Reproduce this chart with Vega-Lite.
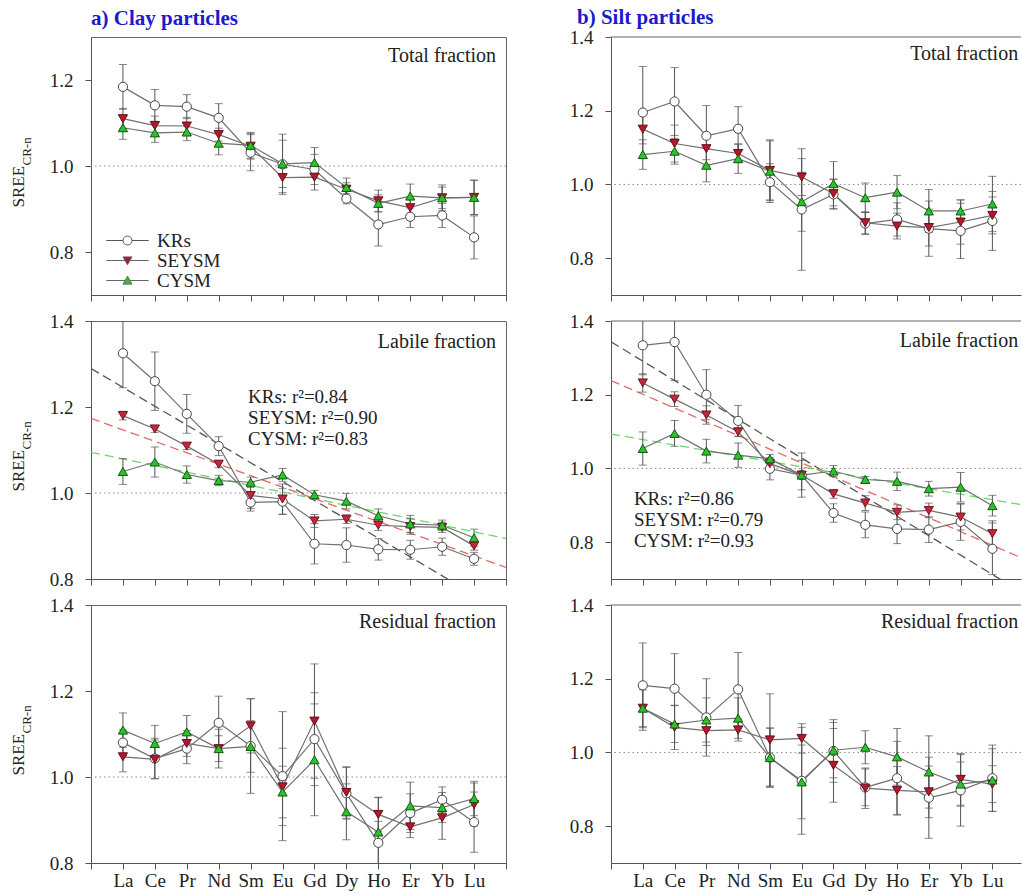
{
  "$schema": "https://vega.github.io/schema/vega-lite/v6.json",
  "padding": {"left": 8, "top": 7, "right": 0, "bottom": 0},
  "config": {
    "font": "Liberation Serif",
    "view": {"stroke": "#666666", "strokeWidth": 1},
    "axis": {"domainColor": "#555555", "tickColor": "#555555", "labelColor": "#222222", "labelFont": "Liberation Serif", "labelFontSize": 19, "tickSize": 6, "grid": false, "titleFont": "Liberation Serif", "titleColor": "#222222", "titleFontWeight": "normal", "labelFlush": false, "labelOverlap": false},
    "axisY": {"labelPadding": 12},
    "axisX": {"labelPadding": 2},
    "title": {"font": "Liberation Serif", "fontSize": 21, "fontWeight": "bold", "color": "#1b1bcc", "anchor": "start", "frame": "group", "baseline": "alphabetic"}
  },
  "resolve": {"scale": {"shape": "independent", "fill": "independent", "stroke": "independent", "color": "independent"}},
  "columns": 2,
  "spacing": {"row": 26, "column": 105},
  "bounds": "flush",
  "datasets": {
    "d": [
      {"p":"cT","s":"KRs","i":1,"v":1.184,"e":0.052},{"p":"cT","s":"KRs","i":2,"v":1.141,"e":0.037},{"p":"cT","s":"KRs","i":3,"v":1.138,"e":0.028},{"p":"cT","s":"KRs","i":4,"v":1.112,"e":0.033},{"p":"cT","s":"KRs","i":5,"v":1.031,"e":0.042},{"p":"cT","s":"KRs","i":6,"v":1.004,"e":0.07},{"p":"cT","s":"KRs","i":7,"v":0.992,"e":0.035},{"p":"cT","s":"KRs","i":8,"v":0.924,"e":0.012},{"p":"cT","s":"KRs","i":9,"v":0.864,"e":0.05},{"p":"cT","s":"KRs","i":10,"v":0.882,"e":0.025},{"p":"cT","s":"KRs","i":11,"v":0.885,"e":0.028},{"p":"cT","s":"KRs","i":12,"v":0.834,"e":0.05},
      {"p":"cT","s":"SEYSM","i":1,"v":1.110,"e":0.024},{"p":"cT","s":"SEYSM","i":2,"v":1.094,"e":0.022},{"p":"cT","s":"SEYSM","i":3,"v":1.093,"e":0.02},{"p":"cT","s":"SEYSM","i":4,"v":1.073,"e":0.015},{"p":"cT","s":"SEYSM","i":5,"v":1.046,"e":0.03},{"p":"cT","s":"SEYSM","i":6,"v":0.973,"e":0.035},{"p":"cT","s":"SEYSM","i":7,"v":0.974,"e":0.03},{"p":"cT","s":"SEYSM","i":8,"v":0.946,"e":0.015},{"p":"cT","s":"SEYSM","i":9,"v":0.919,"e":0.025},{"p":"cT","s":"SEYSM","i":10,"v":0.903,"e":0.02},{"p":"cT","s":"SEYSM","i":11,"v":0.926,"e":0.025},{"p":"cT","s":"SEYSM","i":12,"v":0.927,"e":0.04},
      {"p":"cT","s":"CYSM","i":1,"v":1.089,"e":0.027},{"p":"cT","s":"CYSM","i":2,"v":1.077,"e":0.022},{"p":"cT","s":"CYSM","i":3,"v":1.079,"e":0.02},{"p":"cT","s":"CYSM","i":4,"v":1.053,"e":0.027},{"p":"cT","s":"CYSM","i":5,"v":1.048,"e":0.03},{"p":"cT","s":"CYSM","i":6,"v":1.005,"e":0.055},{"p":"cT","s":"CYSM","i":7,"v":1.008,"e":0.035},{"p":"cT","s":"CYSM","i":8,"v":0.950,"e":0.022},{"p":"cT","s":"CYSM","i":9,"v":0.913,"e":0.02},{"p":"cT","s":"CYSM","i":10,"v":0.930,"e":0.028},{"p":"cT","s":"CYSM","i":11,"v":0.926,"e":0.03},{"p":"cT","s":"CYSM","i":12,"v":0.927,"e":0.04},

      {"p":"cL","s":"KRs","i":1,"v":1.325,"e":0.08},{"p":"cL","s":"KRs","i":2,"v":1.26,"e":0.068},{"p":"cL","s":"KRs","i":3,"v":1.184,"e":0.045},{"p":"cL","s":"KRs","i":4,"v":1.109,"e":0.022},{"p":"cL","s":"KRs","i":5,"v":0.978,"e":0.02},{"p":"cL","s":"KRs","i":6,"v":0.98,"e":0.03},{"p":"cL","s":"KRs","i":7,"v":0.882,"e":0.047},{"p":"cL","s":"KRs","i":8,"v":0.879,"e":0.04},{"p":"cL","s":"KRs","i":9,"v":0.869,"e":0.025},{"p":"cL","s":"KRs","i":10,"v":0.868,"e":0.022},{"p":"cL","s":"KRs","i":11,"v":0.875,"e":0.02},{"p":"cL","s":"KRs","i":12,"v":0.847,"e":0.015},
      {"p":"cL","s":"SEYSM","i":1,"v":1.18,"e":0.01},{"p":"cL","s":"SEYSM","i":2,"v":1.149,"e":0.008},{"p":"cL","s":"SEYSM","i":3,"v":1.109,"e":0.008},{"p":"cL","s":"SEYSM","i":4,"v":1.067,"e":0.008},{"p":"cL","s":"SEYSM","i":5,"v":0.994,"e":0.03},{"p":"cL","s":"SEYSM","i":6,"v":0.986,"e":0.035},{"p":"cL","s":"SEYSM","i":7,"v":0.935,"e":0.015},{"p":"cL","s":"SEYSM","i":8,"v":0.939,"e":0.01},{"p":"cL","s":"SEYSM","i":9,"v":0.925,"e":0.012},{"p":"cL","s":"SEYSM","i":10,"v":0.922,"e":0.018},{"p":"cL","s":"SEYSM","i":11,"v":0.92,"e":0.012},{"p":"cL","s":"SEYSM","i":12,"v":0.877,"e":0.01},
      {"p":"cL","s":"CYSM","i":1,"v":1.05,"e":0.03},{"p":"cL","s":"CYSM","i":2,"v":1.072,"e":0.035},{"p":"cL","s":"CYSM","i":3,"v":1.043,"e":0.02},{"p":"cL","s":"CYSM","i":4,"v":1.029,"e":0.012},{"p":"cL","s":"CYSM","i":5,"v":1.025,"e":0.012},{"p":"cL","s":"CYSM","i":6,"v":1.042,"e":0.015},{"p":"cL","s":"CYSM","i":7,"v":0.996,"e":0.01},{"p":"cL","s":"CYSM","i":8,"v":0.981,"e":0.018},{"p":"cL","s":"CYSM","i":9,"v":0.947,"e":0.016},{"p":"cL","s":"CYSM","i":10,"v":0.928,"e":0.02},{"p":"cL","s":"CYSM","i":11,"v":0.925,"e":0.012},{"p":"cL","s":"CYSM","i":12,"v":0.896,"e":0.02},

      {"p":"cR","s":"KRs","i":1,"v":1.08,"e":0.03},{"p":"cR","s":"KRs","i":2,"v":1.043,"e":0.047},{"p":"cR","s":"KRs","i":3,"v":1.066,"e":0.035},{"p":"cR","s":"KRs","i":4,"v":1.126,"e":0.062},{"p":"cR","s":"KRs","i":5,"v":1.072,"e":0.11},{"p":"cR","s":"KRs","i":6,"v":1.002,"e":0.15},{"p":"cR","s":"KRs","i":7,"v":1.088,"e":0.108},{"p":"cR","s":"KRs","i":8,"v":0.962,"e":0.06},{"p":"cR","s":"KRs","i":9,"v":0.847,"e":0.05},{"p":"cR","s":"KRs","i":10,"v":0.916,"e":0.045},{"p":"cR","s":"KRs","i":11,"v":0.947,"e":0.03},{"p":"cR","s":"KRs","i":12,"v":0.895,"e":0.07},
      {"p":"cR","s":"SEYSM","i":1,"v":1.047,"e":0.035},{"p":"cR","s":"SEYSM","i":2,"v":1.041,"e":0.045},{"p":"cR","s":"SEYSM","i":3,"v":1.078,"e":0.03},{"p":"cR","s":"SEYSM","i":4,"v":1.066,"e":0.03},{"p":"cR","s":"SEYSM","i":5,"v":1.119,"e":0.063},{"p":"cR","s":"SEYSM","i":6,"v":0.977,"e":0.09},{"p":"cR","s":"SEYSM","i":7,"v":1.13,"e":0.133},{"p":"cR","s":"SEYSM","i":8,"v":0.964,"e":0.06},{"p":"cR","s":"SEYSM","i":9,"v":0.913,"e":0.04},{"p":"cR","s":"SEYSM","i":10,"v":0.884,"e":0.025},{"p":"cR","s":"SEYSM","i":11,"v":0.905,"e":0.05},{"p":"cR","s":"SEYSM","i":12,"v":0.936,"e":0.05},
      {"p":"cR","s":"CYSM","i":1,"v":1.109,"e":0.04},{"p":"cR","s":"CYSM","i":2,"v":1.078,"e":0.042},{"p":"cR","s":"CYSM","i":3,"v":1.105,"e":0.038},{"p":"cR","s":"CYSM","i":4,"v":1.066,"e":0.045},{"p":"cR","s":"CYSM","i":5,"v":1.071,"e":0.06},{"p":"cR","s":"CYSM","i":6,"v":0.965,"e":0.06},{"p":"cR","s":"CYSM","i":7,"v":1.04,"e":0.13},{"p":"cR","s":"CYSM","i":8,"v":0.919,"e":0.065},{"p":"cR","s":"CYSM","i":9,"v":0.872,"e":0.08},{"p":"cR","s":"CYSM","i":10,"v":0.933,"e":0.055},{"p":"cR","s":"CYSM","i":11,"v":0.929,"e":0.035},{"p":"cR","s":"CYSM","i":12,"v":0.95,"e":0.04},

      {"p":"sT","s":"KRs","i":1,"v":1.195,"e":0.125},{"p":"sT","s":"KRs","i":2,"v":1.225,"e":0.092},{"p":"sT","s":"KRs","i":3,"v":1.132,"e":0.082},{"p":"sT","s":"KRs","i":4,"v":1.151,"e":0.06},{"p":"sT","s":"KRs","i":5,"v":1.006,"e":0.05},{"p":"sT","s":"KRs","i":6,"v":0.932,"e":0.165},{"p":"sT","s":"KRs","i":7,"v":0.973,"e":0.04},{"p":"sT","s":"KRs","i":8,"v":0.894,"e":0.03},{"p":"sT","s":"KRs","i":9,"v":0.905,"e":0.045},{"p":"sT","s":"KRs","i":10,"v":0.88,"e":0.075},{"p":"sT","s":"KRs","i":11,"v":0.874,"e":0.075},{"p":"sT","s":"KRs","i":12,"v":0.901,"e":0.08},
      {"p":"sT","s":"SEYSM","i":1,"v":1.15,"e":0.04},{"p":"sT","s":"SEYSM","i":2,"v":1.111,"e":0.05},{"p":"sT","s":"SEYSM","i":3,"v":1.097,"e":0.03},{"p":"sT","s":"SEYSM","i":4,"v":1.084,"e":0.025},{"p":"sT","s":"SEYSM","i":5,"v":1.038,"e":0.08},{"p":"sT","s":"SEYSM","i":6,"v":1.02,"e":0.05},{"p":"sT","s":"SEYSM","i":7,"v":0.975,"e":0.04},{"p":"sT","s":"SEYSM","i":8,"v":0.896,"e":0.03},{"p":"sT","s":"SEYSM","i":9,"v":0.887,"e":0.035},{"p":"sT","s":"SEYSM","i":10,"v":0.883,"e":0.05},{"p":"sT","s":"SEYSM","i":11,"v":0.898,"e":0.06},{"p":"sT","s":"SEYSM","i":12,"v":0.916,"e":0.05},
      {"p":"sT","s":"CYSM","i":1,"v":1.081,"e":0.04},{"p":"sT","s":"CYSM","i":2,"v":1.09,"e":0.035},{"p":"sT","s":"CYSM","i":3,"v":1.052,"e":0.045},{"p":"sT","s":"CYSM","i":4,"v":1.07,"e":0.04},{"p":"sT","s":"CYSM","i":5,"v":1.036,"e":0.085},{"p":"sT","s":"CYSM","i":6,"v":0.953,"e":0.08},{"p":"sT","s":"CYSM","i":7,"v":1.002,"e":0.06},{"p":"sT","s":"CYSM","i":8,"v":0.964,"e":0.04},{"p":"sT","s":"CYSM","i":9,"v":0.979,"e":0.045},{"p":"sT","s":"CYSM","i":10,"v":0.928,"e":0.058},{"p":"sT","s":"CYSM","i":11,"v":0.928,"e":0.03},{"p":"sT","s":"CYSM","i":12,"v":0.947,"e":0.075},

      {"p":"sL","s":"KRs","i":1,"v":1.334,"e":0.08},{"p":"sL","s":"KRs","i":2,"v":1.343,"e":0.105},{"p":"sL","s":"KRs","i":3,"v":1.2,"e":0.068},{"p":"sL","s":"KRs","i":4,"v":1.129,"e":0.042},{"p":"sL","s":"KRs","i":5,"v":0.999,"e":0.03},{"p":"sL","s":"KRs","i":6,"v":0.982,"e":0.06},{"p":"sL","s":"KRs","i":7,"v":0.879,"e":0.025},{"p":"sL","s":"KRs","i":8,"v":0.847,"e":0.035},{"p":"sL","s":"KRs","i":9,"v":0.836,"e":0.04},{"p":"sL","s":"KRs","i":10,"v":0.834,"e":0.035},{"p":"sL","s":"KRs","i":11,"v":0.855,"e":0.05},{"p":"sL","s":"KRs","i":12,"v":0.782,"e":0.07},
      {"p":"sL","s":"SEYSM","i":1,"v":1.232,"e":0.025},{"p":"sL","s":"SEYSM","i":2,"v":1.188,"e":0.02},{"p":"sL","s":"SEYSM","i":3,"v":1.145,"e":0.025},{"p":"sL","s":"SEYSM","i":4,"v":1.099,"e":0.012},{"p":"sL","s":"SEYSM","i":5,"v":1.013,"e":0.015},{"p":"sL","s":"SEYSM","i":6,"v":0.982,"e":0.04},{"p":"sL","s":"SEYSM","i":7,"v":0.931,"e":0.012},{"p":"sL","s":"SEYSM","i":8,"v":0.906,"e":0.02},{"p":"sL","s":"SEYSM","i":9,"v":0.881,"e":0.02},{"p":"sL","s":"SEYSM","i":10,"v":0.886,"e":0.02},{"p":"sL","s":"SEYSM","i":11,"v":0.868,"e":0.035},{"p":"sL","s":"SEYSM","i":12,"v":0.823,"e":0.035},
      {"p":"sL","s":"CYSM","i":1,"v":1.054,"e":0.045},{"p":"sL","s":"CYSM","i":2,"v":1.095,"e":0.035},{"p":"sL","s":"CYSM","i":3,"v":1.047,"e":0.032},{"p":"sL","s":"CYSM","i":4,"v":1.036,"e":0.033},{"p":"sL","s":"CYSM","i":5,"v":1.026,"e":0.012},{"p":"sL","s":"CYSM","i":6,"v":0.982,"e":0.01},{"p":"sL","s":"CYSM","i":7,"v":0.993,"e":0.015},{"p":"sL","s":"CYSM","i":8,"v":0.97,"e":0.008},{"p":"sL","s":"CYSM","i":9,"v":0.965,"e":0.025},{"p":"sL","s":"CYSM","i":10,"v":0.945,"e":0.02},{"p":"sL","s":"CYSM","i":11,"v":0.949,"e":0.04},{"p":"sL","s":"CYSM","i":12,"v":0.899,"e":0.028},

      {"p":"sR","s":"KRs","i":1,"v":1.182,"e":0.115},{"p":"sR","s":"KRs","i":2,"v":1.173,"e":0.095},{"p":"sR","s":"KRs","i":3,"v":1.095,"e":0.105},{"p":"sR","s":"KRs","i":4,"v":1.171,"e":0.1},{"p":"sR","s":"KRs","i":5,"v":0.986,"e":0.08},{"p":"sR","s":"KRs","i":6,"v":0.923,"e":0.145},{"p":"sR","s":"KRs","i":7,"v":1.004,"e":0.085},{"p":"sR","s":"KRs","i":8,"v":0.905,"e":0.05},{"p":"sR","s":"KRs","i":9,"v":0.93,"e":0.1},{"p":"sR","s":"KRs","i":10,"v":0.877,"e":0.11},{"p":"sR","s":"KRs","i":11,"v":0.897,"e":0.097},{"p":"sR","s":"KRs","i":12,"v":0.93,"e":0.09},
      {"p":"sR","s":"SEYSM","i":1,"v":1.12,"e":0.05},{"p":"sR","s":"SEYSM","i":2,"v":1.068,"e":0.06},{"p":"sR","s":"SEYSM","i":3,"v":1.059,"e":0.04},{"p":"sR","s":"SEYSM","i":4,"v":1.061,"e":0.03},{"p":"sR","s":"SEYSM","i":5,"v":1.034,"e":0.125},{"p":"sR","s":"SEYSM","i":6,"v":1.038,"e":0.04},{"p":"sR","s":"SEYSM","i":7,"v":0.965,"e":0.1},{"p":"sR","s":"SEYSM","i":8,"v":0.903,"e":0.055},{"p":"sR","s":"SEYSM","i":9,"v":0.897,"e":0.065},{"p":"sR","s":"SEYSM","i":10,"v":0.893,"e":0.07},{"p":"sR","s":"SEYSM","i":11,"v":0.927,"e":0.07},{"p":"sR","s":"SEYSM","i":12,"v":0.914,"e":0.05},
      {"p":"sR","s":"CYSM","i":1,"v":1.12,"e":0.06},{"p":"sR","s":"CYSM","i":2,"v":1.077,"e":0.05},{"p":"sR","s":"CYSM","i":3,"v":1.088,"e":0.06},{"p":"sR","s":"CYSM","i":4,"v":1.093,"e":0.055},{"p":"sR","s":"CYSM","i":5,"v":0.986,"e":0.08},{"p":"sR","s":"CYSM","i":6,"v":0.92,"e":0.1},{"p":"sR","s":"CYSM","i":7,"v":1.006,"e":0.075},{"p":"sR","s":"CYSM","i":8,"v":1.014,"e":0.045},{"p":"sR","s":"CYSM","i":9,"v":0.988,"e":0.077},{"p":"sR","s":"CYSM","i":10,"v":0.947,"e":0.098},{"p":"sR","s":"CYSM","i":11,"v":0.914,"e":0.06},{"p":"sR","s":"CYSM","i":12,"v":0.925,"e":0.085}
    ]
  },
  "concat": [
    {
      "width": 415, "height": 258,
      "title": {"text": "a) Clay particles", "offset": 8},
      "data": {"name": "d"},
      "transform": [{"filter": "datum.p === 'cT'"}],
      "resolve": {"axis": {"x": "independent", "y": "independent"}, "scale": {"shape": "independent", "fill": "independent", "stroke": "independent"}},
      "layer": [
        {"data": {"values": [{}]}, "mark": {"type": "rule", "color": "#8a8a8a", "strokeDash": [1.5, 3]},
         "encoding": {"y": {"datum": 1, "type": "quantitative", "scale": {"domain": [0.7, 1.3]}, "axis": null}}},
        {"mark": {"type": "errorbar", "ticks": true, "size": 8, "thickness": 1, "color": "#555555", "clip": true},
         "encoding": {
           "x": {"field": "i", "type": "quantitative", "scale": {"domain": [0, 13]}, "axis": {"orient": "bottom", "values": [0,1,2,3,4,5,6,7,8,9,10,11,12,13], "labels": false, "title": null}},
           "y": {"field": "v", "type": "quantitative", "scale": {"domain": [0.7, 1.3]}, "axis": {"orient": "left", "values": [0.8, 1.0, 1.2], "format": ".1f", "title": "SREE", "titleFontSize": 17, "titleAngle": 270, "titleAlign": "left", "titleBaseline": "alphabetic", "titleX": -68, "titleY": 170}},
           "yError": {"field": "e"}}},
        {"mark": {"type": "line", "color": "#707070", "strokeWidth": 1.2},
         "encoding": {"x": {"field": "i", "type": "quantitative", "scale": {"domain": [0, 13]}, "axis": null}, "y": {"field": "v", "type": "quantitative", "scale": {"domain": [0.7, 1.3]}, "axis": null}, "detail": {"field": "s"}}},
        {"mark": {"type": "point", "filled": true, "size": 85, "opacity": 1, "strokeWidth": 1},
         "encoding": {
           "x": {"field": "i", "type": "quantitative", "scale": {"domain": [0, 13]}, "axis": null},
           "y": {"field": "v", "type": "quantitative", "scale": {"domain": [0.7, 1.3]}, "axis": {"orient": "left", "title": "CR-n", "titleFontSize": 13, "titleAngle": 270, "titleAlign": "left", "titleBaseline": "alphabetic", "titleX": -61, "titleY": 128, "labels": false, "ticks": false, "domain": false}},
           "shape": {"field": "s", "type": "nominal", "scale": {"domain": ["KRs", "SEYSM", "CYSM"], "range": ["circle", "triangle-down", "triangle-up"]}, "legend": null},
           "fill": {"field": "s", "type": "nominal", "scale": {"domain": ["KRs", "SEYSM", "CYSM"], "range": ["#ffffff", "#b01a2c", "#2ec02e"]}, "legend": null},
           "stroke": {"field": "s", "type": "nominal", "scale": {"domain": ["KRs", "SEYSM", "CYSM"], "range": ["#444444", "#6b0d18", "#0d5c0d"]}, "legend": null}}},
        {"data": {"values": []}, "mark": {"type": "point", "filled": true, "opacity": 1},
         "encoding": {
           "shape": {"field": "s", "type": "nominal", "scale": {"domain": ["KRs", "SEYSM", "CYSM"], "range": ["M-4.7,0H-1M1,0H4.7M1,0A1,1,0,1,1,-1,0A1,1,0,1,1,1,0Z", "M-4.7,0H-0.55M0.55,0H4.7M-1,-0.8L1,-0.8L0,0.95Z", "M-4.7,0H-0.55M0.55,0H4.7M-1,0.8L1,0.8L0,-0.95Z"]},
                     "legend": {"title": null, "orient": "none", "legendX": 27, "legendY": 194, "padding": 0, "symbolSize": 81, "symbolStrokeWidth": 1, "labelFont": "Liberation Serif", "labelFontSize": 19, "labelColor": "#222222", "labelOffset": 20, "rowPadding": 0, "symbolOpacity": 1}},
           "fill": {"field": "s", "type": "nominal", "scale": {"domain": ["KRs", "SEYSM", "CYSM"], "range": ["#ffffff", "#b01a2c", "#2ec02e"]},
                    "legend": {"title": null, "orient": "none", "legendX": 27, "legendY": 194, "padding": 0, "symbolSize": 81, "symbolStrokeWidth": 1, "labelFont": "Liberation Serif", "labelFontSize": 19, "labelColor": "#222222", "labelOffset": 20, "rowPadding": 0, "symbolOpacity": 1}},
           "stroke": {"field": "s", "type": "nominal", "scale": {"domain": ["KRs", "SEYSM", "CYSM"], "range": ["#555555", "#666666", "#666666"]},
                      "legend": {"title": null, "orient": "none", "legendX": 27, "legendY": 194, "padding": 0, "symbolSize": 81, "symbolStrokeWidth": 1, "labelFont": "Liberation Serif", "labelFontSize": 19, "labelColor": "#222222", "labelOffset": 20, "rowPadding": 0, "symbolOpacity": 1}}}},
        {"data": {"values": [{"t": "Total fraction"}]}, "mark": {"type": "text", "align": "right", "baseline": "middle", "fontSize": 20, "color": "#222222"},
         "encoding": {"x": {"datum": 12.69, "type": "quantitative", "scale": {"domain": [0, 13]}, "axis": null}, "y": {"datum": 1.255, "type": "quantitative", "scale": {"domain": [0.7, 1.3]}, "axis": null}, "text": {"field": "t"}}}
      ]
    },
    {
      "width": 410, "height": 258,
      "title": {"text": "b) Silt particles", "dx": -34, "offset": 0},
      "view": {"stroke": null},
      "data": {"name": "d"},
      "transform": [{"filter": "datum.p === 'sT'"}],
      "resolve": {"axis": {"x": "independent", "y": "independent"}},
      "layer": [
        {"data": {"values": [{}]}, "mark": {"type": "rule", "color": "#8a8a8a", "strokeDash": [1.5, 3]},
         "encoding": {"y": {"datum": 1, "type": "quantitative", "scale": {"domain": [0.7, 1.4]}, "axis": null}}},
        {"data": {"values": [{}]}, "mark": {"type": "rule", "color": "#666666"},
         "encoding": {"y": {"datum": 1.4, "type": "quantitative", "scale": {"domain": [0.7, 1.4]}, "axis": null}}},
        {"mark": {"type": "errorbar", "ticks": true, "size": 8, "thickness": 1, "color": "#555555", "clip": true},
         "encoding": {
           "x": {"field": "i", "type": "quantitative", "scale": {"domain": [0, 12.9]}, "axis": {"orient": "bottom", "values": [0,1,2,3,4,5,6,7,8,9,10,11,12], "labels": false, "title": null}},
           "y": {"field": "v", "type": "quantitative", "scale": {"domain": [0.7, 1.4]}, "axis": {"orient": "left", "values": [0.8, 1.0, 1.2, 1.4], "format": ".1f", "title": null}},
           "yError": {"field": "e"}}},
        {"mark": {"type": "line", "color": "#707070", "strokeWidth": 1.2},
         "encoding": {"x": {"field": "i", "type": "quantitative", "scale": {"domain": [0, 12.9]}, "axis": null}, "y": {"field": "v", "type": "quantitative", "scale": {"domain": [0.7, 1.4]}, "axis": null}, "detail": {"field": "s"}}},
        {"mark": {"type": "point", "filled": true, "size": 85, "opacity": 1, "strokeWidth": 1},
         "encoding": {
           "x": {"field": "i", "type": "quantitative", "scale": {"domain": [0, 12.9]}, "axis": null},
           "y": {"field": "v", "type": "quantitative", "scale": {"domain": [0.7, 1.4]}, "axis": null},
           "shape": {"field": "s", "type": "nominal", "scale": {"domain": ["KRs", "SEYSM", "CYSM"], "range": ["circle", "triangle-down", "triangle-up"]}, "legend": null},
           "fill": {"field": "s", "type": "nominal", "scale": {"domain": ["KRs", "SEYSM", "CYSM"], "range": ["#ffffff", "#b01a2c", "#2ec02e"]}, "legend": null},
           "stroke": {"field": "s", "type": "nominal", "scale": {"domain": ["KRs", "SEYSM", "CYSM"], "range": ["#444444", "#6b0d18", "#0d5c0d"]}, "legend": null}}},
        {"data": {"values": [{"t": "Total fraction"}]}, "mark": {"type": "text", "align": "right", "baseline": "middle", "fontSize": 20, "color": "#222222"},
         "encoding": {"x": {"datum": 12.81, "type": "quantitative", "scale": {"domain": [0, 12.9]}, "axis": null}, "y": {"datum": 1.354, "type": "quantitative", "scale": {"domain": [0.7, 1.4]}, "axis": null}, "text": {"field": "t"}}}
      ]
    },
    {
      "width": 415, "height": 258,
      "data": {"name": "d"},
      "transform": [{"filter": "datum.p === 'cL'"}],
      "resolve": {"axis": {"x": "independent", "y": "independent"}},
      "layer": [
        {"data": {"values": [{}]}, "mark": {"type": "rule", "color": "#8a8a8a", "strokeDash": [1.5, 3]},
         "encoding": {"y": {"datum": 1, "type": "quantitative", "scale": {"domain": [0.8, 1.4]}, "axis": null}}},
        {"transform": [{"regression": "v", "on": "i", "groupby": ["s"], "extent": [0, 13]}],
         "mark": {"type": "line", "strokeDash": [9, 5], "strokeWidth": 1.3, "clip": true},
         "encoding": {"x": {"field": "i", "type": "quantitative", "scale": {"domain": [0, 13]}, "axis": null}, "y": {"field": "v", "type": "quantitative", "scale": {"domain": [0.8, 1.4]}, "axis": null},
                      "color": {"field": "s", "type": "nominal", "scale": {"domain": ["KRs", "SEYSM", "CYSM"], "range": ["#555555", "#e06a6a", "#6ad86a"]}, "legend": null}}},
        {"mark": {"type": "errorbar", "ticks": true, "size": 8, "thickness": 1, "color": "#555555", "clip": true},
         "encoding": {
           "x": {"field": "i", "type": "quantitative", "scale": {"domain": [0, 13]}, "axis": {"orient": "bottom", "values": [0,1,2,3,4,5,6,7,8,9,10,11,12,13], "labels": false, "title": null}},
           "y": {"field": "v", "type": "quantitative", "scale": {"domain": [0.8, 1.4]}, "axis": {"orient": "left", "values": [0.8, 1.0, 1.2, 1.4], "format": ".1f", "title": "SREE", "titleFontSize": 17, "titleAngle": 270, "titleAlign": "left", "titleBaseline": "alphabetic", "titleX": -68, "titleY": 170}},
           "yError": {"field": "e"}}},
        {"mark": {"type": "line", "color": "#707070", "strokeWidth": 1.2},
         "encoding": {"x": {"field": "i", "type": "quantitative", "scale": {"domain": [0, 13]}, "axis": null}, "y": {"field": "v", "type": "quantitative", "scale": {"domain": [0.8, 1.4]}, "axis": null}, "detail": {"field": "s"}}},
        {"mark": {"type": "point", "filled": true, "size": 85, "opacity": 1, "strokeWidth": 1},
         "encoding": {
           "x": {"field": "i", "type": "quantitative", "scale": {"domain": [0, 13]}, "axis": null},
           "y": {"field": "v", "type": "quantitative", "scale": {"domain": [0.8, 1.4]}, "axis": {"orient": "left", "title": "CR-n", "titleFontSize": 13, "titleAngle": 270, "titleAlign": "left", "titleBaseline": "alphabetic", "titleX": -61, "titleY": 128, "labels": false, "ticks": false, "domain": false}},
           "shape": {"field": "s", "type": "nominal", "scale": {"domain": ["KRs", "SEYSM", "CYSM"], "range": ["circle", "triangle-down", "triangle-up"]}, "legend": null},
           "fill": {"field": "s", "type": "nominal", "scale": {"domain": ["KRs", "SEYSM", "CYSM"], "range": ["#ffffff", "#c0283a", "#2ec02e"]}, "legend": null},
           "stroke": {"field": "s", "type": "nominal", "scale": {"domain": ["KRs", "SEYSM", "CYSM"], "range": ["#444444", "#7a1220", "#0d5c0d"]}, "legend": null}}},
        {"data": {"values": [{"t": "Labile fraction"}]}, "mark": {"type": "text", "align": "right", "baseline": "middle", "fontSize": 20, "color": "#222222"},
         "encoding": {"x": {"datum": 12.69, "type": "quantitative", "scale": {"domain": [0, 13]}, "axis": null}, "y": {"datum": 1.351, "type": "quantitative", "scale": {"domain": [0.8, 1.4]}, "axis": null}, "text": {"field": "t"}}},
        {"data": {"values": [{}]}, "mark": {"type": "text", "align": "left", "baseline": "top", "fontSize": 19, "lineHeight": 21, "color": "#222222", "text": ["KRs: r²=0.84", "SEYSM: r²=0.90", "CYSM: r²=0.83"]},
         "encoding": {"x": {"datum": 4.92, "type": "quantitative", "scale": {"domain": [0, 13]}, "axis": null}, "y": {"datum": 1.245, "type": "quantitative", "scale": {"domain": [0.8, 1.4]}, "axis": null}}}
      ]
    },
    {
      "width": 410, "height": 258,
      "view": {"stroke": null},
      "data": {"name": "d"},
      "transform": [{"filter": "datum.p === 'sL'"}],
      "resolve": {"axis": {"x": "independent", "y": "independent"}},
      "layer": [
        {"data": {"values": [{}]}, "mark": {"type": "rule", "color": "#8a8a8a", "strokeDash": [1.5, 3]},
         "encoding": {"y": {"datum": 1, "type": "quantitative", "scale": {"domain": [0.7, 1.4]}, "axis": null}}},
        {"data": {"values": [{}]}, "mark": {"type": "rule", "color": "#666666"},
         "encoding": {"y": {"datum": 1.4, "type": "quantitative", "scale": {"domain": [0.7, 1.4]}, "axis": null}}},
        {"transform": [{"regression": "v", "on": "i", "groupby": ["s"], "extent": [0, 13]}],
         "mark": {"type": "line", "strokeDash": [9, 5], "strokeWidth": 1.3, "clip": true},
         "encoding": {"x": {"field": "i", "type": "quantitative", "scale": {"domain": [0, 12.9]}, "axis": null}, "y": {"field": "v", "type": "quantitative", "scale": {"domain": [0.7, 1.4]}, "axis": null},
                      "color": {"field": "s", "type": "nominal", "scale": {"domain": ["KRs", "SEYSM", "CYSM"], "range": ["#555555", "#e06a6a", "#6ad86a"]}, "legend": null}}},
        {"mark": {"type": "errorbar", "ticks": true, "size": 8, "thickness": 1, "color": "#555555", "clip": true},
         "encoding": {
           "x": {"field": "i", "type": "quantitative", "scale": {"domain": [0, 12.9]}, "axis": {"orient": "bottom", "values": [0,1,2,3,4,5,6,7,8,9,10,11,12], "labels": false, "title": null}},
           "y": {"field": "v", "type": "quantitative", "scale": {"domain": [0.7, 1.4]}, "axis": {"orient": "left", "values": [0.8, 1.0, 1.2, 1.4], "format": ".1f", "title": null}},
           "yError": {"field": "e"}}},
        {"mark": {"type": "line", "color": "#707070", "strokeWidth": 1.2},
         "encoding": {"x": {"field": "i", "type": "quantitative", "scale": {"domain": [0, 12.9]}, "axis": null}, "y": {"field": "v", "type": "quantitative", "scale": {"domain": [0.7, 1.4]}, "axis": null}, "detail": {"field": "s"}}},
        {"mark": {"type": "point", "filled": true, "size": 85, "opacity": 1, "strokeWidth": 1},
         "encoding": {
           "x": {"field": "i", "type": "quantitative", "scale": {"domain": [0, 12.9]}, "axis": null},
           "y": {"field": "v", "type": "quantitative", "scale": {"domain": [0.7, 1.4]}, "axis": null},
           "shape": {"field": "s", "type": "nominal", "scale": {"domain": ["KRs", "SEYSM", "CYSM"], "range": ["circle", "triangle-down", "triangle-up"]}, "legend": null},
           "fill": {"field": "s", "type": "nominal", "scale": {"domain": ["KRs", "SEYSM", "CYSM"], "range": ["#ffffff", "#c0283a", "#2ec02e"]}, "legend": null},
           "stroke": {"field": "s", "type": "nominal", "scale": {"domain": ["KRs", "SEYSM", "CYSM"], "range": ["#444444", "#7a1220", "#0d5c0d"]}, "legend": null}}},
        {"data": {"values": [{"t": "Labile fraction"}]}, "mark": {"type": "text", "align": "right", "baseline": "middle", "fontSize": 20, "color": "#222222"},
         "encoding": {"x": {"datum": 12.81, "type": "quantitative", "scale": {"domain": [0, 12.9]}, "axis": null}, "y": {"datum": 1.346, "type": "quantitative", "scale": {"domain": [0.7, 1.4]}, "axis": null}, "text": {"field": "t"}}},
        {"data": {"values": [{}]}, "mark": {"type": "text", "align": "left", "baseline": "top", "fontSize": 19, "lineHeight": 21, "color": "#222222", "text": ["KRs: r²=0.86", "SEYSM: r²=0.79", "CYSM: r²=0.93"]},
         "encoding": {"x": {"datum": 0.72, "type": "quantitative", "scale": {"domain": [0, 12.9]}, "axis": null}, "y": {"datum": 0.941, "type": "quantitative", "scale": {"domain": [0.7, 1.4]}, "axis": null}}}
      ]
    },
    {
      "width": 415, "height": 258,
      "data": {"name": "d"},
      "transform": [{"filter": "datum.p === 'cR'"}],
      "resolve": {"axis": {"x": "independent", "y": "independent"}},
      "layer": [
        {"data": {"values": [{}]}, "mark": {"type": "rule", "color": "#8a8a8a", "strokeDash": [1.5, 3]},
         "encoding": {"y": {"datum": 1, "type": "quantitative", "scale": {"domain": [0.8, 1.4]}, "axis": null}}},
        {"mark": {"type": "errorbar", "ticks": true, "size": 8, "thickness": 1, "color": "#555555", "clip": true},
         "encoding": {
           "x": {"field": "i", "type": "quantitative", "scale": {"domain": [0, 13]}, "axis": {"orient": "bottom", "values": [0,1,2,3,4,5,6,7,8,9,10,11,12,13], "title": null, "labelExpr": "['', 'La', 'Ce', 'Pr', 'Nd', 'Sm', 'Eu', 'Gd', 'Dy', 'Ho', 'Er', 'Yb', 'Lu', ''][datum.value]"}},
           "y": {"field": "v", "type": "quantitative", "scale": {"domain": [0.8, 1.4]}, "axis": {"orient": "left", "values": [0.8, 1.0, 1.2, 1.4], "format": ".1f", "title": "SREE", "titleFontSize": 17, "titleAngle": 270, "titleAlign": "left", "titleBaseline": "alphabetic", "titleX": -68, "titleY": 170}},
           "yError": {"field": "e"}}},
        {"mark": {"type": "line", "color": "#707070", "strokeWidth": 1.2},
         "encoding": {"x": {"field": "i", "type": "quantitative", "scale": {"domain": [0, 13]}, "axis": null}, "y": {"field": "v", "type": "quantitative", "scale": {"domain": [0.8, 1.4]}, "axis": null}, "detail": {"field": "s"}}},
        {"mark": {"type": "point", "filled": true, "size": 85, "opacity": 1, "strokeWidth": 1},
         "encoding": {
           "x": {"field": "i", "type": "quantitative", "scale": {"domain": [0, 13]}, "axis": null},
           "y": {"field": "v", "type": "quantitative", "scale": {"domain": [0.8, 1.4]}, "axis": {"orient": "left", "title": "CR-n", "titleFontSize": 13, "titleAngle": 270, "titleAlign": "left", "titleBaseline": "alphabetic", "titleX": -61, "titleY": 128, "labels": false, "ticks": false, "domain": false}},
           "shape": {"field": "s", "type": "nominal", "scale": {"domain": ["KRs", "SEYSM", "CYSM"], "range": ["circle", "triangle-down", "triangle-up"]}, "legend": null},
           "fill": {"field": "s", "type": "nominal", "scale": {"domain": ["KRs", "SEYSM", "CYSM"], "range": ["#ffffff", "#b01a2c", "#2ec02e"]}, "legend": null},
           "stroke": {"field": "s", "type": "nominal", "scale": {"domain": ["KRs", "SEYSM", "CYSM"], "range": ["#444444", "#6b0d18", "#0d5c0d"]}, "legend": null}}},
        {"data": {"values": [{"t": "Residual fraction"}]}, "mark": {"type": "text", "align": "right", "baseline": "middle", "fontSize": 20, "color": "#222222"},
         "encoding": {"x": {"datum": 12.69, "type": "quantitative", "scale": {"domain": [0, 13]}, "axis": null}, "y": {"datum": 1.36, "type": "quantitative", "scale": {"domain": [0.8, 1.4]}, "axis": null}, "text": {"field": "t"}}}
      ]
    },
    {
      "width": 410, "height": 258,
      "view": {"stroke": null},
      "data": {"name": "d"},
      "transform": [{"filter": "datum.p === 'sR'"}],
      "resolve": {"axis": {"x": "independent", "y": "independent"}},
      "layer": [
        {"data": {"values": [{}]}, "mark": {"type": "rule", "color": "#8a8a8a", "strokeDash": [1.5, 3]},
         "encoding": {"y": {"datum": 1, "type": "quantitative", "scale": {"domain": [0.7, 1.4]}, "axis": null}}},
        {"data": {"values": [{}]}, "mark": {"type": "rule", "color": "#666666"},
         "encoding": {"y": {"datum": 1.4, "type": "quantitative", "scale": {"domain": [0.7, 1.4]}, "axis": null}}},
        {"mark": {"type": "errorbar", "ticks": true, "size": 8, "thickness": 1, "color": "#555555", "clip": true},
         "encoding": {
           "x": {"field": "i", "type": "quantitative", "scale": {"domain": [0, 12.9]}, "axis": {"orient": "bottom", "values": [0,1,2,3,4,5,6,7,8,9,10,11,12], "title": null, "labelExpr": "['', 'La', 'Ce', 'Pr', 'Nd', 'Sm', 'Eu', 'Gd', 'Dy', 'Ho', 'Er', 'Yb', 'Lu', ''][datum.value]"}},
           "y": {"field": "v", "type": "quantitative", "scale": {"domain": [0.7, 1.4]}, "axis": {"orient": "left", "values": [0.8, 1.0, 1.2, 1.4], "format": ".1f", "title": null}},
           "yError": {"field": "e"}}},
        {"mark": {"type": "line", "color": "#707070", "strokeWidth": 1.2},
         "encoding": {"x": {"field": "i", "type": "quantitative", "scale": {"domain": [0, 12.9]}, "axis": null}, "y": {"field": "v", "type": "quantitative", "scale": {"domain": [0.7, 1.4]}, "axis": null}, "detail": {"field": "s"}}},
        {"mark": {"type": "point", "filled": true, "size": 85, "opacity": 1, "strokeWidth": 1},
         "encoding": {
           "x": {"field": "i", "type": "quantitative", "scale": {"domain": [0, 12.9]}, "axis": null},
           "y": {"field": "v", "type": "quantitative", "scale": {"domain": [0.7, 1.4]}, "axis": null},
           "shape": {"field": "s", "type": "nominal", "scale": {"domain": ["KRs", "SEYSM", "CYSM"], "range": ["circle", "triangle-down", "triangle-up"]}, "legend": null},
           "fill": {"field": "s", "type": "nominal", "scale": {"domain": ["KRs", "SEYSM", "CYSM"], "range": ["#ffffff", "#b01a2c", "#2ec02e"]}, "legend": null},
           "stroke": {"field": "s", "type": "nominal", "scale": {"domain": ["KRs", "SEYSM", "CYSM"], "range": ["#444444", "#6b0d18", "#0d5c0d"]}, "legend": null}}},
        {"data": {"values": [{"t": "Residual fraction"}]}, "mark": {"type": "text", "align": "right", "baseline": "middle", "fontSize": 20, "color": "#222222"},
         "encoding": {"x": {"datum": 12.81, "type": "quantitative", "scale": {"domain": [0, 12.9]}, "axis": null}, "y": {"datum": 1.354, "type": "quantitative", "scale": {"domain": [0.7, 1.4]}, "axis": null}, "text": {"field": "t"}}}
      ]
    }
  ]
}
